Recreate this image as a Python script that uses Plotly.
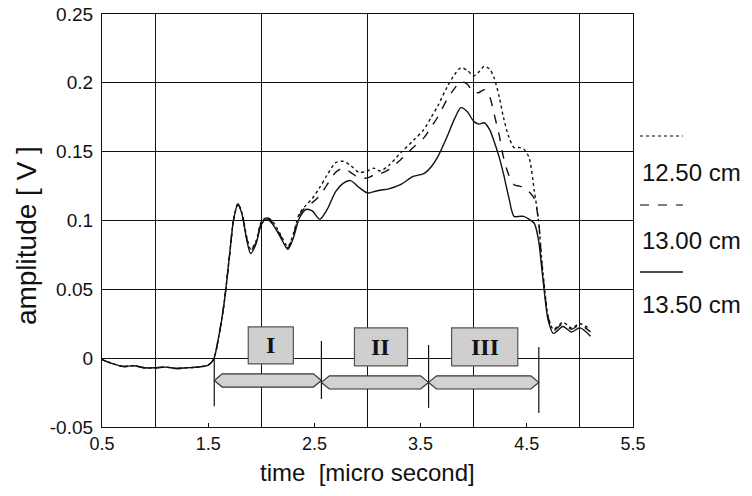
import plotly.graph_objects as go

# Time axis samples [micro second]
time_us = [0.50, 0.60, 0.70, 0.80, 0.90, 1.00, 1.10, 1.20, 1.30, 1.40,
           1.50, 1.55, 1.60, 1.65, 1.70, 1.74, 1.78, 1.82, 1.86, 1.90,
           1.95, 2.00, 2.05, 2.10, 2.18, 2.25, 2.30, 2.36, 2.42, 2.48,
           2.55, 2.62, 2.70, 2.77, 2.84, 2.92, 3.00, 3.06, 3.12, 3.20,
           3.31, 3.43, 3.53, 3.60, 3.66, 3.75, 3.82, 3.88, 3.94, 4.00,
           4.05, 4.10, 4.15, 4.19, 4.24, 4.28, 4.33, 4.38, 4.43, 4.47,
           4.52, 4.57, 4.61, 4.64, 4.67, 4.70, 4.75, 4.84, 4.92, 5.00,
           5.10]

# Received amplitude [V] for each distance
amp_1250 = [-0.001, -0.004, -0.006, -0.0055, -0.007, -0.007, -0.0065, -0.0075, -0.007, -0.0065,
            -0.005, -0.001, 0.016, 0.040, 0.074, 0.101, 0.112, 0.105, 0.089, 0.079,
            0.085, 0.099, 0.102, 0.100, 0.090, 0.081, 0.090, 0.105, 0.111, 0.116,
            0.124, 0.133, 0.142, 0.143, 0.140, 0.135, 0.136, 0.138, 0.136, 0.140,
            0.149, 0.158, 0.166, 0.175, 0.183, 0.197, 0.206, 0.211, 0.209, 0.205,
            0.208, 0.212, 0.210, 0.204, 0.190, 0.175, 0.161, 0.153, 0.153, 0.152,
            0.146, 0.122, 0.100, 0.072, 0.049, 0.031, 0.021, 0.026, 0.022, 0.025,
            0.021]

amp_1300 = [-0.001, -0.004, -0.006, -0.0055, -0.007, -0.007, -0.0065, -0.0075, -0.007, -0.0065,
            -0.005, -0.001, 0.016, 0.040, 0.074, 0.101, 0.112, 0.104, 0.088, 0.078,
            0.084, 0.098, 0.102, 0.099, 0.089, 0.080, 0.089, 0.104, 0.110, 0.113,
            0.118, 0.126, 0.135, 0.138, 0.135, 0.131, 0.131, 0.133, 0.134, 0.137,
            0.144, 0.153, 0.160, 0.168, 0.175, 0.188, 0.196, 0.201, 0.199, 0.193,
            0.193, 0.195, 0.190, 0.178, 0.162, 0.146, 0.133, 0.126, 0.125, 0.124,
            0.121, 0.116, 0.100, 0.070, 0.047, 0.030, 0.020, 0.025, 0.021, 0.024,
            0.019]

amp_1350 = [-0.001, -0.004, -0.006, -0.0055, -0.007, -0.007, -0.0065, -0.0075, -0.007, -0.0065,
            -0.005, -0.001, 0.016, 0.040, 0.074, 0.101, 0.112, 0.104, 0.087, 0.076,
            0.083, 0.097, 0.101, 0.098, 0.088, 0.079, 0.087, 0.102, 0.108, 0.107,
            0.101, 0.108, 0.121, 0.127, 0.129, 0.124, 0.120, 0.121, 0.122, 0.123,
            0.126, 0.132, 0.134, 0.139, 0.146, 0.161, 0.174, 0.182, 0.179, 0.172,
            0.170, 0.171, 0.166, 0.158, 0.146, 0.134, 0.117, 0.103, 0.103, 0.103,
            0.101, 0.098, 0.086, 0.066, 0.045, 0.028, 0.018, 0.023, 0.019, 0.022,
            0.016]

series_labels = ["12.50 cm", "13.00 cm", "13.50 cm"]
series_dash = ["dot", "dash", "solid"]

x_ticks = [0.5, 1.5, 2.5, 3.5, 4.5, 5.5]
x_ticktext = ["0.5", "1.5", "2.5", "3.5", "4.5", "5.5"]
y_ticks = [-0.05, 0, 0.05, 0.1, 0.15, 0.2, 0.25]
y_ticktext = ["-0.05", "0", "0.05", "0.1", "0.15", "0.2", "0.25"]

# Signal phases marked below the trace
phase_names = ["I", "II", "III"]
phase_edges = [1.557, 2.566, 3.575, 4.613]

SANS = "Liberation Sans, Arial, Helvetica, sans-serif"
SERIF = "Liberation Serif, Times New Roman, serif"
INK = "#111111"

fig = go.Figure()
for amp, name, dash in zip([amp_1250, amp_1300, amp_1350], series_labels, series_dash):
    fig.add_trace(go.Scatter(
        x=time_us, y=amp, name=name, mode="lines",
        line=dict(color=INK, width=1.4, dash=dash, shape="spline", smoothing=0.8),
        showlegend=False,
    ))

shapes = []
# phase boundary markers
marker_spans = [(0.0, -0.035), (0.0125, -0.0296), (0.0096, -0.0361), (0.0082, -0.0398)]
for xe, (ya, yb) in zip(phase_edges, marker_spans):
    shapes.append(dict(type="line", xref="x", yref="y", x0=xe, x1=xe, y0=ya, y1=yb,
                       line=dict(color=INK, width=1.2)))

# double-headed hexagonal arrows spanning each phase
arrow_mid = [-0.0162, -0.0176, -0.0176]
half_h = 0.0048
tip = 0.075
for i in range(3):
    x0, x1 = phase_edges[i], phase_edges[i + 1]
    yc = arrow_mid[i]
    path = (f"M {x0},{yc} L {x0 + tip},{yc + half_h} L {x1 - tip},{yc + half_h} "
            f"L {x1},{yc} L {x1 - tip},{yc - half_h} L {x0 + tip},{yc - half_h} Z")
    shapes.append(dict(type="path", xref="x", yref="y", path=path,
                       fillcolor="#d2d2d2", line=dict(color="#333333", width=1.2)))

# labelled boxes above the arrows
box_x = [(1.877, 2.302), (2.877, 3.377), (3.792, 4.415)]
box_y = [(-0.0042, 0.0227), (-0.0056, 0.022), (-0.0056, 0.022)]
annotations = []
for name, (bx0, bx1), (by0, by1) in zip(phase_names, box_x, box_y):
    shapes.append(dict(type="rect", xref="x", yref="y", x0=bx0, x1=bx1, y0=by0, y1=by1,
                       fillcolor="#cfcfcf", line=dict(color="#555555", width=1.2)))
    annotations.append(dict(x=(bx0 + bx1) / 2, y=(by0 + by1) / 2, xref="x", yref="y",
                            text=f"<b>{name}</b>", showarrow=False,
                            font=dict(family=SERIF, size=24, color=INK)))

# legend drawn to the right of the frame: line sample above each label
legend_line_y = [0.7046, 0.5375, 0.3753]
legend_text_y = [0.617, 0.452, 0.296]
for name, dash, ly, ty in zip(series_labels, series_dash, legend_line_y, legend_text_y):
    shapes.append(dict(type="line", xref="paper", yref="paper", x0=1.0132, x1=1.094,
                       y0=ly, y1=ly, line=dict(color=INK if dash == "solid" else "#555555",
                                               width=1.3, dash=dash)))
    annotations.append(dict(x=1.0132, y=ty, xref="paper", yref="paper", text=name,
                            showarrow=False, xanchor="left", yanchor="middle",
                            font=dict(family=SANS, size=24, color=INK)))

# axis titles
annotations.append(dict(x=-0.141, y=0.4625, xref="paper", yref="paper",
                        text="amplitude [ V ]", textangle=-90, showarrow=False,
                        xanchor="center", yanchor="middle",
                        font=dict(family=SANS, size=28, color=INK)))
annotations.append(dict(x=0.5, y=-0.072, xref="paper", yref="paper",
                        text="time  [micro second]", showarrow=False,
                        xanchor="center", yanchor="top",
                        font=dict(family=SANS, size=24, color=INK)))

fig.update_layout(
    width=752, height=496, autosize=False,
    margin=dict(l=102, r=119, t=14, b=69, pad=0),
    paper_bgcolor="white", plot_bgcolor="white",
    font=dict(family=SANS, size=18, color=INK),
    shapes=shapes, annotations=annotations,
    showlegend=False,
)
fig.update_xaxes(
    range=[0.5, 5.5], tickvals=x_ticks, ticktext=x_ticktext, automargin=False,
    showgrid=False, ticks="inside", ticklen=4, tickcolor=INK,
    minor=dict(tickvals=[1, 2, 3, 4, 5], showgrid=True, gridcolor=INK, gridwidth=1.2,
               ticks=""),
    showline=True, mirror=True, linecolor=INK, linewidth=1.2, zeroline=False,
    tickfont=dict(size=18),
)
fig.update_yaxes(
    range=[-0.05, 0.25], tickvals=y_ticks, ticktext=y_ticktext, automargin=False,
    showgrid=True, gridcolor=INK, gridwidth=1.2, ticks="",
    showline=True, mirror=True, linecolor=INK, linewidth=1.2, zeroline=False,
    tickfont=dict(size=19), ticklabelstandoff=4,
)

fig.write_html("out.html")
